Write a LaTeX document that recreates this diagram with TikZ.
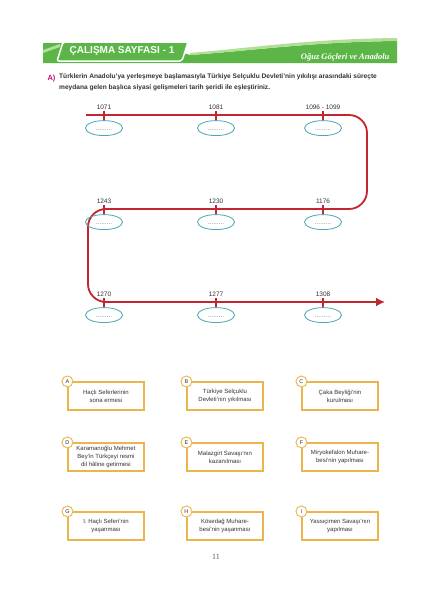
\documentclass[tikz,border=0pt]{standalone}
\usepackage{fontspec}
\setmainfont{Liberation Sans}
\newfontfamily\pageserif{Liberation Serif}
\usetikzlibrary{positioning,arrows.meta,shapes.geometric}
\definecolor{band}{HTML}{5CB547}
\definecolor{bandlight}{HTML}{B3DE98}
\definecolor{tlred}{HTML}{C3262E}
\definecolor{slotedge}{HTML}{4CA6B6}
\definecolor{gold}{HTML}{ECB54C}
\definecolor{ink}{HTML}{333333}
\definecolor{qmark}{HTML}{C2107A}
\definecolor{dotgray}{HTML}{7A7A7A}
\tikzset{
  timeline/.style={draw=tlred, line width=1.8pt, rounded corners=18pt,
                   -{Latex[length=9pt,width=9pt]}},
  tick/.style    ={fill=tlred, minimum width=1.6pt, minimum height=9pt, inner sep=0pt},
  yearlbl/.style ={font=\fontsize{6.5}{7}\selectfont, text=ink, inner sep=1pt},
  % empty slot under each year
  slot/.style    ={ellipse, draw=slotedge, line width=0.8pt, minimum width=37pt,
                   minimum height=15pt, inner sep=0pt, font=\fontsize{6.5}{7}\selectfont,
                   text=dotgray, text height=5pt, text depth=0pt},
  answer/.style  ={draw=gold, line width=1.1pt, minimum width=76pt, minimum height=28pt,
                   align=center, font=\fontsize{6}{8}\selectfont, text=ink, inner sep=2pt},
  badge/.style   ={circle, draw=gold, fill=white, line width=0.9pt, minimum size=11pt,
                   inner sep=0pt, font=\fontsize{5.5}{6}\selectfont, text=ink},
}
\begin{document}
\begin{tikzpicture}[x=1pt, y=-1pt]
    \fill[white] (0,0) rectangle (424,600);
    % header banner
    \fill[band] (43,43) -- (150,43) -- (190,55) .. controls (260,50) and (310,42) .. (397,41)
          -- (397,63) -- (43,63) -- cycle;
    \fill[bandlight] (190,53) .. controls (260,47) and (310,39) .. (397,38)
          -- (397,41) .. controls (310,42) and (260,50) .. (190,55) -- cycle;
    \fill[bandlight] (43,50) -- (60,44) -- (60,47) -- (43,53) -- cycle;
    \filldraw[fill=band, draw=white, line width=1.5pt, rounded corners=2pt]
          (57,61) -- (63,42) -- (188,42) -- (182,61) -- cycle;
    \node[font=\fontsize{10}{11}\selectfont\bfseries, text=white] (title) at (122,51.5) {ÇALIŞMA SAYFASI - 1};
    \node[anchor=east, font=\pageserif\fontsize{8.5}{9}\selectfont\bfseries\itshape, text=white] (subtitle) at (393,57.5) {Oğuz Göçleri ve Anadolu};
    % question
    \node[anchor=base west, font=\fontsize{7.5}{8}\selectfont\bfseries, text=qmark] (qA) at (44,80.5) {A)};
    \node[anchor=north west, align=left, inner sep=0pt, text=ink,
          font=\fontsize{6.6}{11}\selectfont\bfseries] (question) at (59,73.5)
          {Türklerin Anadolu'ya yerleşmeye başlamasıyla Türkiye Selçuklu Devleti'nin yıkılışı arasındaki süreçte\\
           meydana gelen başlıca siyasi gelişmeleri tarih şeridi ile eşleştiriniz.};
    % time strip
    \coordinate (tlstart) at (86,115);
    \coordinate (bendNE) at (367,115);
    \coordinate (bendSE) at (367,209);
    \coordinate (bendSW) at (88,209);
    \coordinate (bendLW) at (88,302);
    \coordinate (tlend) at (385,302);
    \draw[timeline] (tlstart) -- (bendNE) -- (bendSE) -- (bendSW) -- (bendLW) -- (tlend);
    % top row
    \node[tick, label={[yearlbl]above:1071}] (t1071) at (104,115) {};
    \node[tick, label={[yearlbl]above:1081}] (t1081) at (216,115) {};
    \node[tick, label={[yearlbl]above:1096 - 1099}] (t1096) at (323,115) {};
    \node[slot, below=0.5pt of t1071] (s1071) {.........};
    \node[slot, below=0.5pt of t1081] (s1081) {.........};
    \node[slot, below=0.5pt of t1096] (s1096) {.........};
    % middle row
    \node[tick, label={[yearlbl]above:1243}] (t1243) at (104,209) {};
    \node[tick, label={[yearlbl]above:1230}] (t1230) at (216,209) {};
    \node[tick, label={[yearlbl]above:1176}] (t1176) at (323,209) {};
    \node[slot, below=0.5pt of t1243] (s1243) {.........};
    \node[slot, below=0.5pt of t1230] (s1230) {.........};
    \node[slot, below=0.5pt of t1176] (s1176) {.........};
    % bottom row
    \node[tick, label={[yearlbl]above:1270}] (t1270) at (104,302) {};
    \node[tick, label={[yearlbl]above:1277}] (t1277) at (216,302) {};
    \node[tick, label={[yearlbl]above:1308}] (t1308) at (323,302) {};
    \node[slot, below=0.5pt of t1270] (s1270) {.........};
    \node[slot, below=0.5pt of t1277] (s1277) {.........};
    \node[slot, below=0.5pt of t1308] (s1308) {.........};
    % events
    \node[answer] (boxA) at (106,396) {Haçlı Seferlerinin\\sona ermesi};
    \node[answer] (boxB) at (225,396) {Türkiye Selçuklu\\Devleti'nin yıkılması};
    \node[answer] (boxC) at (340,396) {Çaka Beyliği'nin\\kurulması};
    \node[answer] (boxD) at (106,457) {Karamanoğlu Mehmet\\Bey'in Türkçeyi resmi\\dil hâline getirmesi};
    \node[answer] (boxE) at (225,457) {Malazgirt Savaşı'nın\\kazanılması};
    \node[answer] (boxF) at (340,457) {Miryokefalon Muhare-\\besi'nin yapılması};
    \node[answer] (boxG) at (106,526) {I. Haçlı Seferi'nin\\yaşanması};
    \node[answer] (boxH) at (225,526) {Kösedağ Muhare-\\besi'nin yaşanması};
    \node[answer] (boxI) at (340,526) {Yassıçimen Savaşı'nın\\yapılması};
    \node[badge] (tagA) at (boxA.north west) {A};
    \node[badge] (tagB) at (boxB.north west) {B};
    \node[badge] (tagC) at (boxC.north west) {C};
    \node[badge] (tagD) at (boxD.north west) {D};
    \node[badge] (tagE) at (boxE.north west) {E};
    \node[badge] (tagF) at (boxF.north west) {F};
    \node[badge] (tagG) at (boxG.north west) {G};
    \node[badge] (tagH) at (boxH.north west) {H};
    \node[badge] (tagI) at (boxI.north west) {I};
    \node[font=\pageserif\fontsize{8}{9}\selectfont, text=ink!80] (pageno) at (216,557) {11};
\end{tikzpicture}
\end{document}
